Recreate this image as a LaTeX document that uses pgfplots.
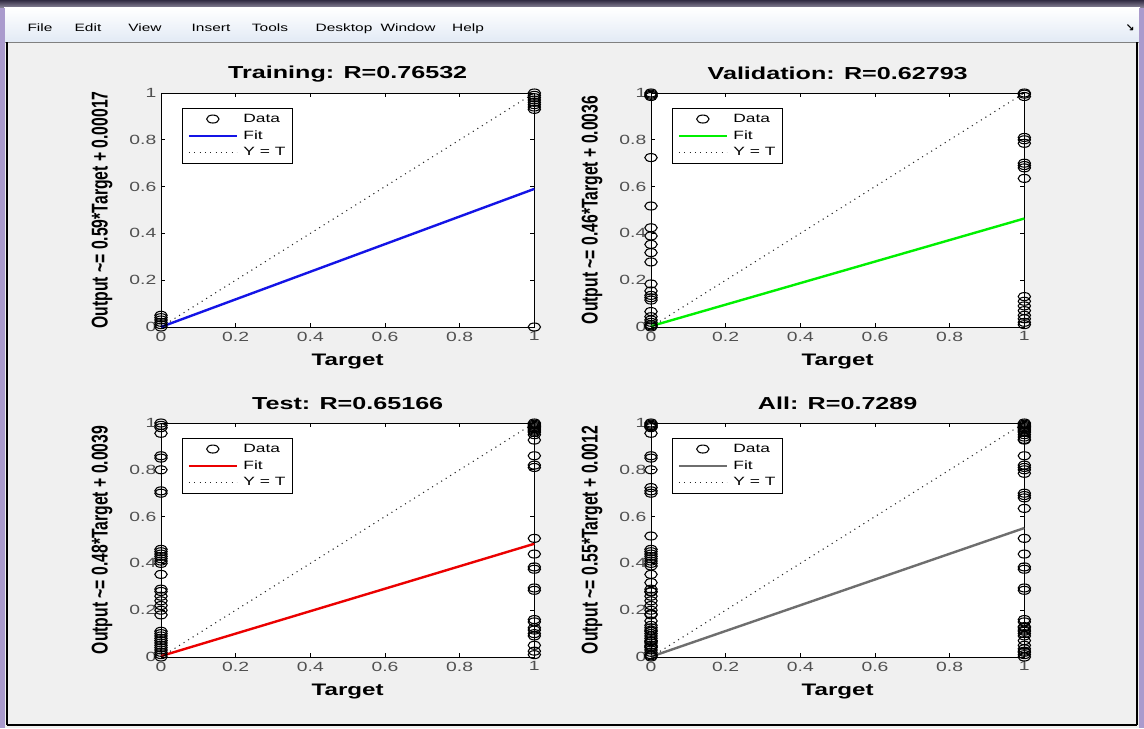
\documentclass[border=0pt]{standalone}
\usepackage{pgfplots}
\pgfplotsset{compat=1.18}
\usepackage{fontspec}
\usepackage{graphicx}
\setmainfont{Liberation Sans}
\newfontfamily\ws[FakeStretch=1.45]{Liberation Sans}
\newfontfamily\djsym{DejaVu Sans}
\definecolor{bg}{RGB}{240,240,240}
\definecolor{tickgray}{RGB}{80,80,80}
\definecolor{fitblue}{RGB}{20,20,230}
\definecolor{fitgreen}{RGB}{0,240,0}
\definecolor{fitred}{RGB}{235,0,0}
\definecolor{fitgray}{RGB}{110,110,110}
\definecolor{menubar}{RGB}{226,234,245}
\definecolor{titlebar}{RGB}{70,62,95}
\definecolor{lav}{RGB}{170,155,205}
\pgfplotsset{
 reg/.style={
  scale only axis, width=280pt, height=175.5pt,
  xmin=0,xmax=1,ymin=0,ymax=1,
  xtick={0,0.2,0.4,0.6,0.8,1}, ytick={0,0.2,0.4,0.6,0.8,1},
  xticklabels={0,0.2,0.4,0.6,0.8,1}, yticklabels={0,0.2,0.4,0.6,0.8,1},
  tick pos=both, tick align=inside, major tick length=3pt,
  tick style={black, line width=0.5pt},
  axis line style={black, line width=0.7pt},
  ticklabel style={font=\ws\fontsize{10}{12}\selectfont, text=tickgray},
  /pgf/number format/assume math mode=true,
  title style={font=\ws\bfseries\fontsize{13}{15}\selectfont, at={(axis description cs:0.5,1.048)}, anchor=center},
  xlabel style={font=\ws\bfseries\fontsize{12.5}{15}\selectfont, at={(axis description cs:0.5,-0.148)}, anchor=center},
  ylabel style={font=\bfseries\fontsize{11.8}{14}\selectfont, at={(axis description cs:-0.158,0.5)}, anchor=center},
  xlabel={Target},
  clip=false,
  axis background/.style={fill=white},
  legend style={at={(0.056,0.936)}, anchor=north west, draw=black, fill=white, line width=0.6pt,
    font=\ws\fontsize{9}{10}\selectfont, legend cell align=left,
    inner xsep=4pt, inner ysep=3pt, row sep=2.5pt,
    nodes={inner sep=1pt, text height=6.5pt, text depth=1.5pt},
    /tikz/every odd column/.append style={column sep=3pt}},
 },
 dat/.style={only marks, mark=o, black, mark size=3pt, mark options={xscale=1.55, line width=0.8pt},
   legend image code/.code={\draw[##1] plot coordinates {(18pt,0pt)};}},
 fit/.style={no marks, line width=1.8pt, color=#1,
   legend image code/.code={\draw[##1] (0pt,0pt) -- (36pt,0pt);}},
 yt/.style={no marks, black!85, line width=0.8pt, dash pattern=on 0.8pt off 3.2pt,
   legend image code/.code={\draw[##1] (0pt,0pt) -- (36pt,0pt);}},
}
\begin{document}
\begin{tikzpicture}
% window background and chrome
\fill[bg] (0,0) rectangle (858pt,546pt);
\shade[top color=titlebar!70!black, bottom color=titlebar!60] (0,540pt) rectangle (858pt,546pt);
\shade[top color=white, bottom color=menubar] (3pt,514.5pt) rectangle (855pt,540pt);
\draw[black!50, line width=0.5pt] (3pt,514.5pt) -- (855pt,514.5pt);
\fill[lav] (0,0) rectangle (3.75pt,540pt);
\fill[lav] (854.25pt,0) rectangle (858pt,540pt);
\draw[black, line width=1.2pt] (5.25pt,2.25pt) -- (5.25pt,514.5pt);
\draw[black, line width=1.2pt] (852.75pt,2.25pt) -- (852.75pt,514.5pt);
\draw[black, line width=1.2pt] (5.25pt,2.25pt) -- (852.75pt,2.25pt);
\begin{scope}[every node/.style={font=\ws\fontsize{8}{9}\selectfont, anchor=base, inner sep=0pt}]
\node at (30pt,522.5pt) {File};
\node at (66pt,522.5pt) {Edit};
\node at (108.75pt,522.5pt) {View};
\node at (158.25pt,522.5pt) {Insert};
\node at (202.5pt,522.5pt) {Tools};
\node at (258pt,522.5pt) {Desktop};
\node at (306pt,522.5pt) {Window};
\node at (351pt,522.5pt) {Help};
\node[font=\djsym\bfseries\fontsize{8}{9}\selectfont] at (847.5pt,522.5pt) {↘};
\end{scope}

% Training
\begin{axis}[reg, at={(120.75pt,300.75pt)}, anchor=south west,
  title={Training: R=0.76532},
  ylabel={\scalebox{1}[1.45]{Output \textasciitilde= 0.59*Target + 0.00017}}]
\addplot[dat] coordinates {(0,0) (0,0.01) (0,0.02) (0,0.03) (0,0.04) (0,0.05)
 (1,1) (1,0.99) (1,0.98) (1,0.97) (1,0.96) (1,0.95) (1,0.94) (1,0.93) (1,0)};
\addlegendentry{Data}
\addplot[fit=fitblue] coordinates {(0,0.00017) (1,0.59017)};
\addlegendentry{Fit}
\addplot[yt] coordinates {(0,0) (1,1)};
\addlegendentry{Y = T}
\end{axis}

% Validation
\begin{axis}[reg, at={(488.25pt,300.75pt)}, anchor=south west,
  title={Validation: R=0.62793},
  ylabel={\scalebox{1}[1.45]{Output \textasciitilde= 0.46*Target + 0.0036}}]
\addplot[dat] coordinates {(0,1.0) (0,0.995) (0,0.99) (0,0.985) (0,0.724) (0,0.517) (0,0.424) (0,0.389) (0,0.353) (0,0.318) (0,0.278) (0,0.184) (0,0.154) (0,0.135) (0,0.125) (0,0.115) (0,0.066) (0,0.044) (0,0.03) (0,0.02) (0,0.01) (0,0.005) (0,0.0)
 (1,1.0) (1,0.995) (1,0.985) (1,0.81) (1,0.80) (1,0.785) (1,0.70) (1,0.69) (1,0.68) (1,0.635) (1,0.13) (1,0.11) (1,0.09) (1,0.07) (1,0.05) (1,0.035) (1,0.02) (1,0.01)};
\addlegendentry{Data}
\addplot[fit=fitgreen] coordinates {(0,0.0036) (1,0.4636)};
\addlegendentry{Fit}
\addplot[yt] coordinates {(0,0) (1,1)};
\addlegendentry{Y = T}
\end{axis}

% Test
\begin{axis}[reg, at={(120.75pt,53.25pt)}, anchor=south west,
  title={Test: R=0.65166},
  ylabel={\scalebox{1}[1.45]{Output \textasciitilde= 0.48*Target + 0.0039}}]
\addplot[dat] coordinates {(0,1.0) (0,0.99) (0,0.98) (0,0.956) (0,0.86) (0,0.85) (0,0.80) (0,0.71) (0,0.70) (0,0.46) (0,0.45) (0,0.44) (0,0.43) (0,0.42) (0,0.41) (0,0.40) (0,0.353) (0,0.29) (0,0.28) (0,0.26) (0,0.24) (0,0.22) (0,0.20) (0,0.18) (0,0.11) (0,0.10) (0,0.09) (0,0.08) (0,0.07) (0,0.06) (0,0.05) (0,0.04) (0,0.03) (0,0.02) (0,0.01) (0,0.0)
 (1,1.0) (1,0.995) (1,0.99) (1,0.985) (1,0.98) (1,0.975) (1,0.97) (1,0.965) (1,0.96) (1,0.95) (1,0.927) (1,0.86) (1,0.82) (1,0.81) (1,0.507) (1,0.44) (1,0.385) (1,0.375) (1,0.295) (1,0.285) (1,0.16) (1,0.15) (1,0.125) (1,0.115) (1,0.10) (1,0.09) (1,0.05) (1,0.025) (1,0.01)};
\addlegendentry{Data}
\addplot[fit=fitred] coordinates {(0,0.0039) (1,0.4839)};
\addlegendentry{Fit}
\addplot[yt] coordinates {(0,0) (1,1)};
\addlegendentry{Y = T}
\end{axis}

% All
\begin{axis}[reg, at={(488.25pt,53.25pt)}, anchor=south west,
  title={All: R=0.7289},
  ylabel={\scalebox{1}[1.45]{Output \textasciitilde= 0.55*Target + 0.0012}}]
\addplot[dat] coordinates {(0,1.0) (0,0.995) (0,0.99) (0,0.985) (0,0.98) (0,0.956) (0,0.86) (0,0.85) (0,0.80) (0,0.724) (0,0.71) (0,0.70) (0,0.517) (0,0.46) (0,0.45) (0,0.44) (0,0.43) (0,0.42) (0,0.41) (0,0.40) (0,0.389) (0,0.353) (0,0.318) (0,0.29) (0,0.28) (0,0.278) (0,0.26) (0,0.24) (0,0.22) (0,0.20) (0,0.184) (0,0.18) (0,0.154) (0,0.135) (0,0.125) (0,0.115) (0,0.11) (0,0.10) (0,0.09) (0,0.08) (0,0.07) (0,0.066) (0,0.06) (0,0.05) (0,0.044) (0,0.04) (0,0.03) (0,0.02) (0,0.01) (0,0.005) (0,0.0)
 (1,1.0) (1,0.995) (1,0.99) (1,0.985) (1,0.98) (1,0.975) (1,0.97) (1,0.965) (1,0.96) (1,0.95) (1,0.94) (1,0.93) (1,0.927) (1,0.86) (1,0.82) (1,0.81) (1,0.80) (1,0.785) (1,0.70) (1,0.69) (1,0.68) (1,0.635) (1,0.507) (1,0.44) (1,0.385) (1,0.375) (1,0.295) (1,0.285) (1,0.16) (1,0.15) (1,0.13) (1,0.125) (1,0.115) (1,0.11) (1,0.10) (1,0.09) (1,0.07) (1,0.05) (1,0.035) (1,0.025) (1,0.02) (1,0.01) (1,0.0)};
\addlegendentry{Data}
\addplot[fit=fitgray] coordinates {(0,0.0012) (1,0.5512)};
\addlegendentry{Fit}
\addplot[yt] coordinates {(0,0) (1,1)};
\addlegendentry{Y = T}
\end{axis}
\end{tikzpicture}
\end{document}
